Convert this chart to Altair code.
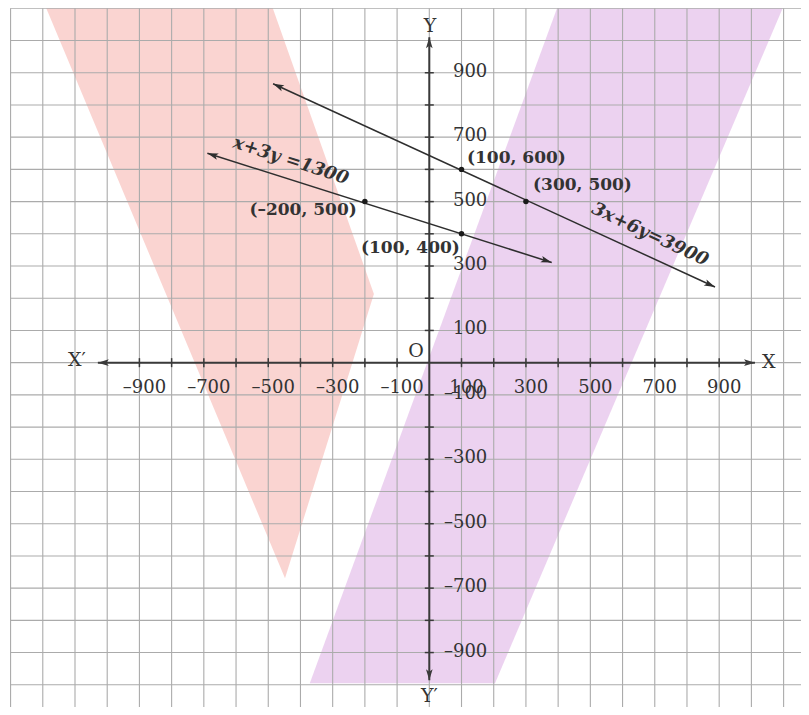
import math
import numpy as np
import pandas as pd
import altair as alt

# ---------------- data ----------------
grid_x = list(range(-1300, 1101, 100))
grid_y = list(range(-1000, 1101, 100))

tick_vals = [v for v in range(-900, 901, 100) if v != 0]
x_label_vals = [-900, -700, -500, -300, -100, 100, 300, 500, 700, 900]
y_label_vals = [900, 700, 500, 300, 100, -100, -300, -500, -700, -900]

# shaded regions (polygon vertices, data units)
pink_x = [-1200, -495, -172, -448]
pink_y = [1126, 1126, 213, -669]
purple_x = [406, 1108, 204, -371]
purple_y = [1126, 1126, -995, -995]

# lines (end points as drawn)
line1_x = [-485, 887]
line1_y = [866, 235]
line1_label = "3x+6y=3900"
line1_label_pos = (685, 397)
line2_x = [-689, 380]
line2_y = [650, 311]
line2_label = "x+3y =1300"
line2_label_pos = (-430, 626)

# marked points
pt_x = [100, 300, -200, 100]
pt_y = [600, 500, 500, 400]
pt_text = ["(100, 600)", "(300, 500)", "(–200, 500)", "(100, 400)"]
pt_text_x = [117, 322, -225, 95]
pt_text_y = [636, 552, 474, 356]
pt_text_align = ["left", "left", "right", "right"]

xaxis_ends = [-1029, 1011]
yaxis_ends = [-986, 1010]

# ---------------- layout ----------------
W, H = 793, 699
XMIN, XMAX = -1308, 1154
YMIN, YMAX = -1069, 1101
PXX = W / (XMAX - XMIN)
PXY = H / (YMAX - YMIN)

xs = alt.Scale(domain=[XMIN, XMAX], nice=False, zero=False)
ys = alt.Scale(domain=[YMIN, YMAX], nice=False, zero=False)


def X(f="x"):
    return alt.X(f"{f}:Q", scale=xs, axis=None)


def Y(f="y"):
    return alt.Y(f"{f}:Q", scale=ys, axis=None)


SERIF = "DejaVu Serif"
INK = "#333333"
ARROW = "M0,0L-0.7,2.3L0,1.8L0.7,2.3Z"


def arrow_angle(x0, y0, x1, y1):
    dx = (x1 - x0) * PXX
    dy = -(y1 - y0) * PXY
    return math.degrees(math.atan2(dx, -dy)) % 360


# grid
vgrid = alt.Chart(pd.DataFrame({"x": grid_x, "top": [1100] * len(grid_x)})).mark_rule(
    color="#ababab", strokeWidth=1.1
).encode(x=X(), y=Y("top"), y2=alt.value(H))
hgrid = alt.Chart(pd.DataFrame({"y": grid_y, "left": [-1300] * len(grid_y)})).mark_rule(
    color="#ababab", strokeWidth=1.1
).encode(y=Y(), x=X("left"), x2=alt.value(W))


def region(vx, vy):
    # convert polygon into left/right edges over y
    ys_sorted = sorted(set(vy), reverse=True)
    n = len(vx)
    rows = []
    for yy in ys_sorted:
        xs_at = []
        for i in range(n):
            xa, ya = vx[i], vy[i]
            xb, yb = vx[(i + 1) % n], vy[(i + 1) % n]
            if ya == yb:
                if ya == yy:
                    xs_at += [xa, xb]
            elif min(ya, yb) <= yy <= max(ya, yb):
                t = (yy - ya) / (yb - ya)
                xs_at.append(xa + t * (xb - xa))
        rows.append({"y": yy, "x": min(xs_at), "x2": max(xs_at)})
    return pd.DataFrame(rows)


pink = alt.Chart(region(pink_x, pink_y)).mark_area(
    color="#f9cfcc", opacity=0.9, orient="horizontal", clip=True
).encode(y=Y(), x=X(), x2="x2:Q")
purple = alt.Chart(region(purple_x, purple_y)).mark_area(
    color="#eacdee", opacity=0.9, orient="horizontal", clip=True
).encode(y=Y(), x=X(), x2="x2:Q")

# axes
axes_df = pd.DataFrame({
    "x": [xaxis_ends[0], 0], "x2": [xaxis_ends[1], 0],
    "y": [0, yaxis_ends[0]], "y2": [0, yaxis_ends[1]],
})
axes = alt.Chart(axes_df).mark_rule(color="#3a3a3a", strokeWidth=2).encode(
    x=X(), x2="x2:Q", y=Y(), y2="y2:Q")

ticks_df = pd.DataFrame({"v": tick_vals, "zero": [0] * len(tick_vals)})
xticks = alt.Chart(ticks_df).mark_tick(
    color="#3a3a3a", thickness=1.5, size=9, orient="vertical", opacity=1
).encode(x=X("v"), y=Y("zero"))
yticks = alt.Chart(ticks_df).mark_tick(
    color="#3a3a3a", thickness=1.5, size=9, orient="horizontal", opacity=1
).encode(y=Y("v"), x=X("zero"))

arrows_df = pd.DataFrame({
    "x": [xaxis_ends[1], xaxis_ends[0], 0, 0],
    "y": [0, 0, yaxis_ends[1], yaxis_ends[0]],
    "ang": [90, 270, 0, 180],
})
axis_arrows = alt.Chart(arrows_df).mark_point(
    shape=ARROW, size=90, filled=True, color="#3a3a3a", opacity=1
).encode(x=X(), y=Y(), angle=alt.Angle("ang:Q", scale=None))

xlab_df = pd.DataFrame({
    "v": x_label_vals, "zero": [0] * len(x_label_vals),
    "t": [f"{v}".replace("-", "–") for v in x_label_vals],
})
xlab = alt.Chart(xlab_df).mark_text(
    font=SERIF, fontSize=18, color=INK, dy=25, dx=5
).encode(x=X("v"), y=Y("zero"), text="t:N")
ylab_df = pd.DataFrame({
    "v": y_label_vals, "zero": [0] * len(y_label_vals),
    "t": [f"{v}".replace("-", "–") for v in y_label_vals],
})
ylab = alt.Chart(ylab_df).mark_text(
    font=SERIF, fontSize=18, color=INK, align="right", dx=58, dy=-1
).encode(y=Y("v"), x=X("zero"), text="t:N")

axis_names = alt.Chart(pd.DataFrame({
    "x": [-1094, 1054, 2, 0, -41],
    "y": [8, 2, 1046, -1034, 37],
    "t": ["X′", "X", "Y", "Y′", "O"],
})).mark_text(font=SERIF, fontSize=19, color=INK).encode(x=X(), y=Y(), text="t:N")

# lines with arrowheads
line_rows = []
arrow_rows = []
for lx, ly in [(line1_x, line1_y), (line2_x, line2_y)]:
    line_rows.append({"x": lx[0], "y": ly[0], "x2": lx[1], "y2": ly[1]})
    arrow_rows.append({"x": lx[1], "y": ly[1], "ang": arrow_angle(lx[0], ly[0], lx[1], ly[1])})
    arrow_rows.append({"x": lx[0], "y": ly[0], "ang": arrow_angle(lx[1], ly[1], lx[0], ly[0])})
lines = alt.Chart(pd.DataFrame(line_rows)).mark_rule(color="#2e2e2e", strokeWidth=1.5).encode(
    x=X(), x2="x2:Q", y=Y(), y2="y2:Q")
line_arrows = alt.Chart(pd.DataFrame(arrow_rows)).mark_point(
    shape=ARROW, size=90, filled=True, color="#2e2e2e", opacity=1
).encode(x=X(), y=Y(), angle=alt.Angle("ang:Q", scale=None))

dots = alt.Chart(pd.DataFrame({"x": pt_x, "y": pt_y})).mark_circle(
    size=30, color="#1a1a1a", opacity=1).encode(x=X(), y=Y())

pt_df = pd.DataFrame({"x": pt_text_x, "y": pt_text_y, "t": pt_text, "a": pt_text_align})
pt_left = alt.Chart(pt_df[pt_df.a == "left"]).mark_text(
    font=SERIF, fontSize=17, fontWeight="bold", color=INK, align="left").encode(x=X(), y=Y(), text="t:N")
pt_right = alt.Chart(pt_df[pt_df.a == "right"]).mark_text(
    font=SERIF, fontSize=17, fontWeight="bold", color=INK, align="right").encode(x=X(), y=Y(), text="t:N")

eq1 = alt.Chart(pd.DataFrame({"x": [line1_label_pos[0]], "y": [line1_label_pos[1]], "t": [line1_label]})).mark_text(
    font=SERIF, fontSize=18, fontStyle="italic", fontWeight="bold", color=INK, angle=25
).encode(x=X(), y=Y(), text="t:N")
eq2 = alt.Chart(pd.DataFrame({"x": [line2_label_pos[0]], "y": [line2_label_pos[1]], "t": [line2_label]})).mark_text(
    font=SERIF, fontSize=18, fontStyle="italic", fontWeight="bold", color=INK, angle=18
).encode(x=X(), y=Y(), text="t:N")

chart = alt.layer(
    pink, purple, vgrid, hgrid, axes, xticks, yticks, axis_arrows,
    lines, line_arrows, dots, xlab, ylab, axis_names, pt_left, pt_right, eq1, eq2
).properties(
    width=W, height=H, padding=0,
    autosize=alt.AutoSizeParams(type="none"),
).configure_view(stroke=None)

chart.save("out.html", embed_options={"renderer": "svg", "actions": False})
